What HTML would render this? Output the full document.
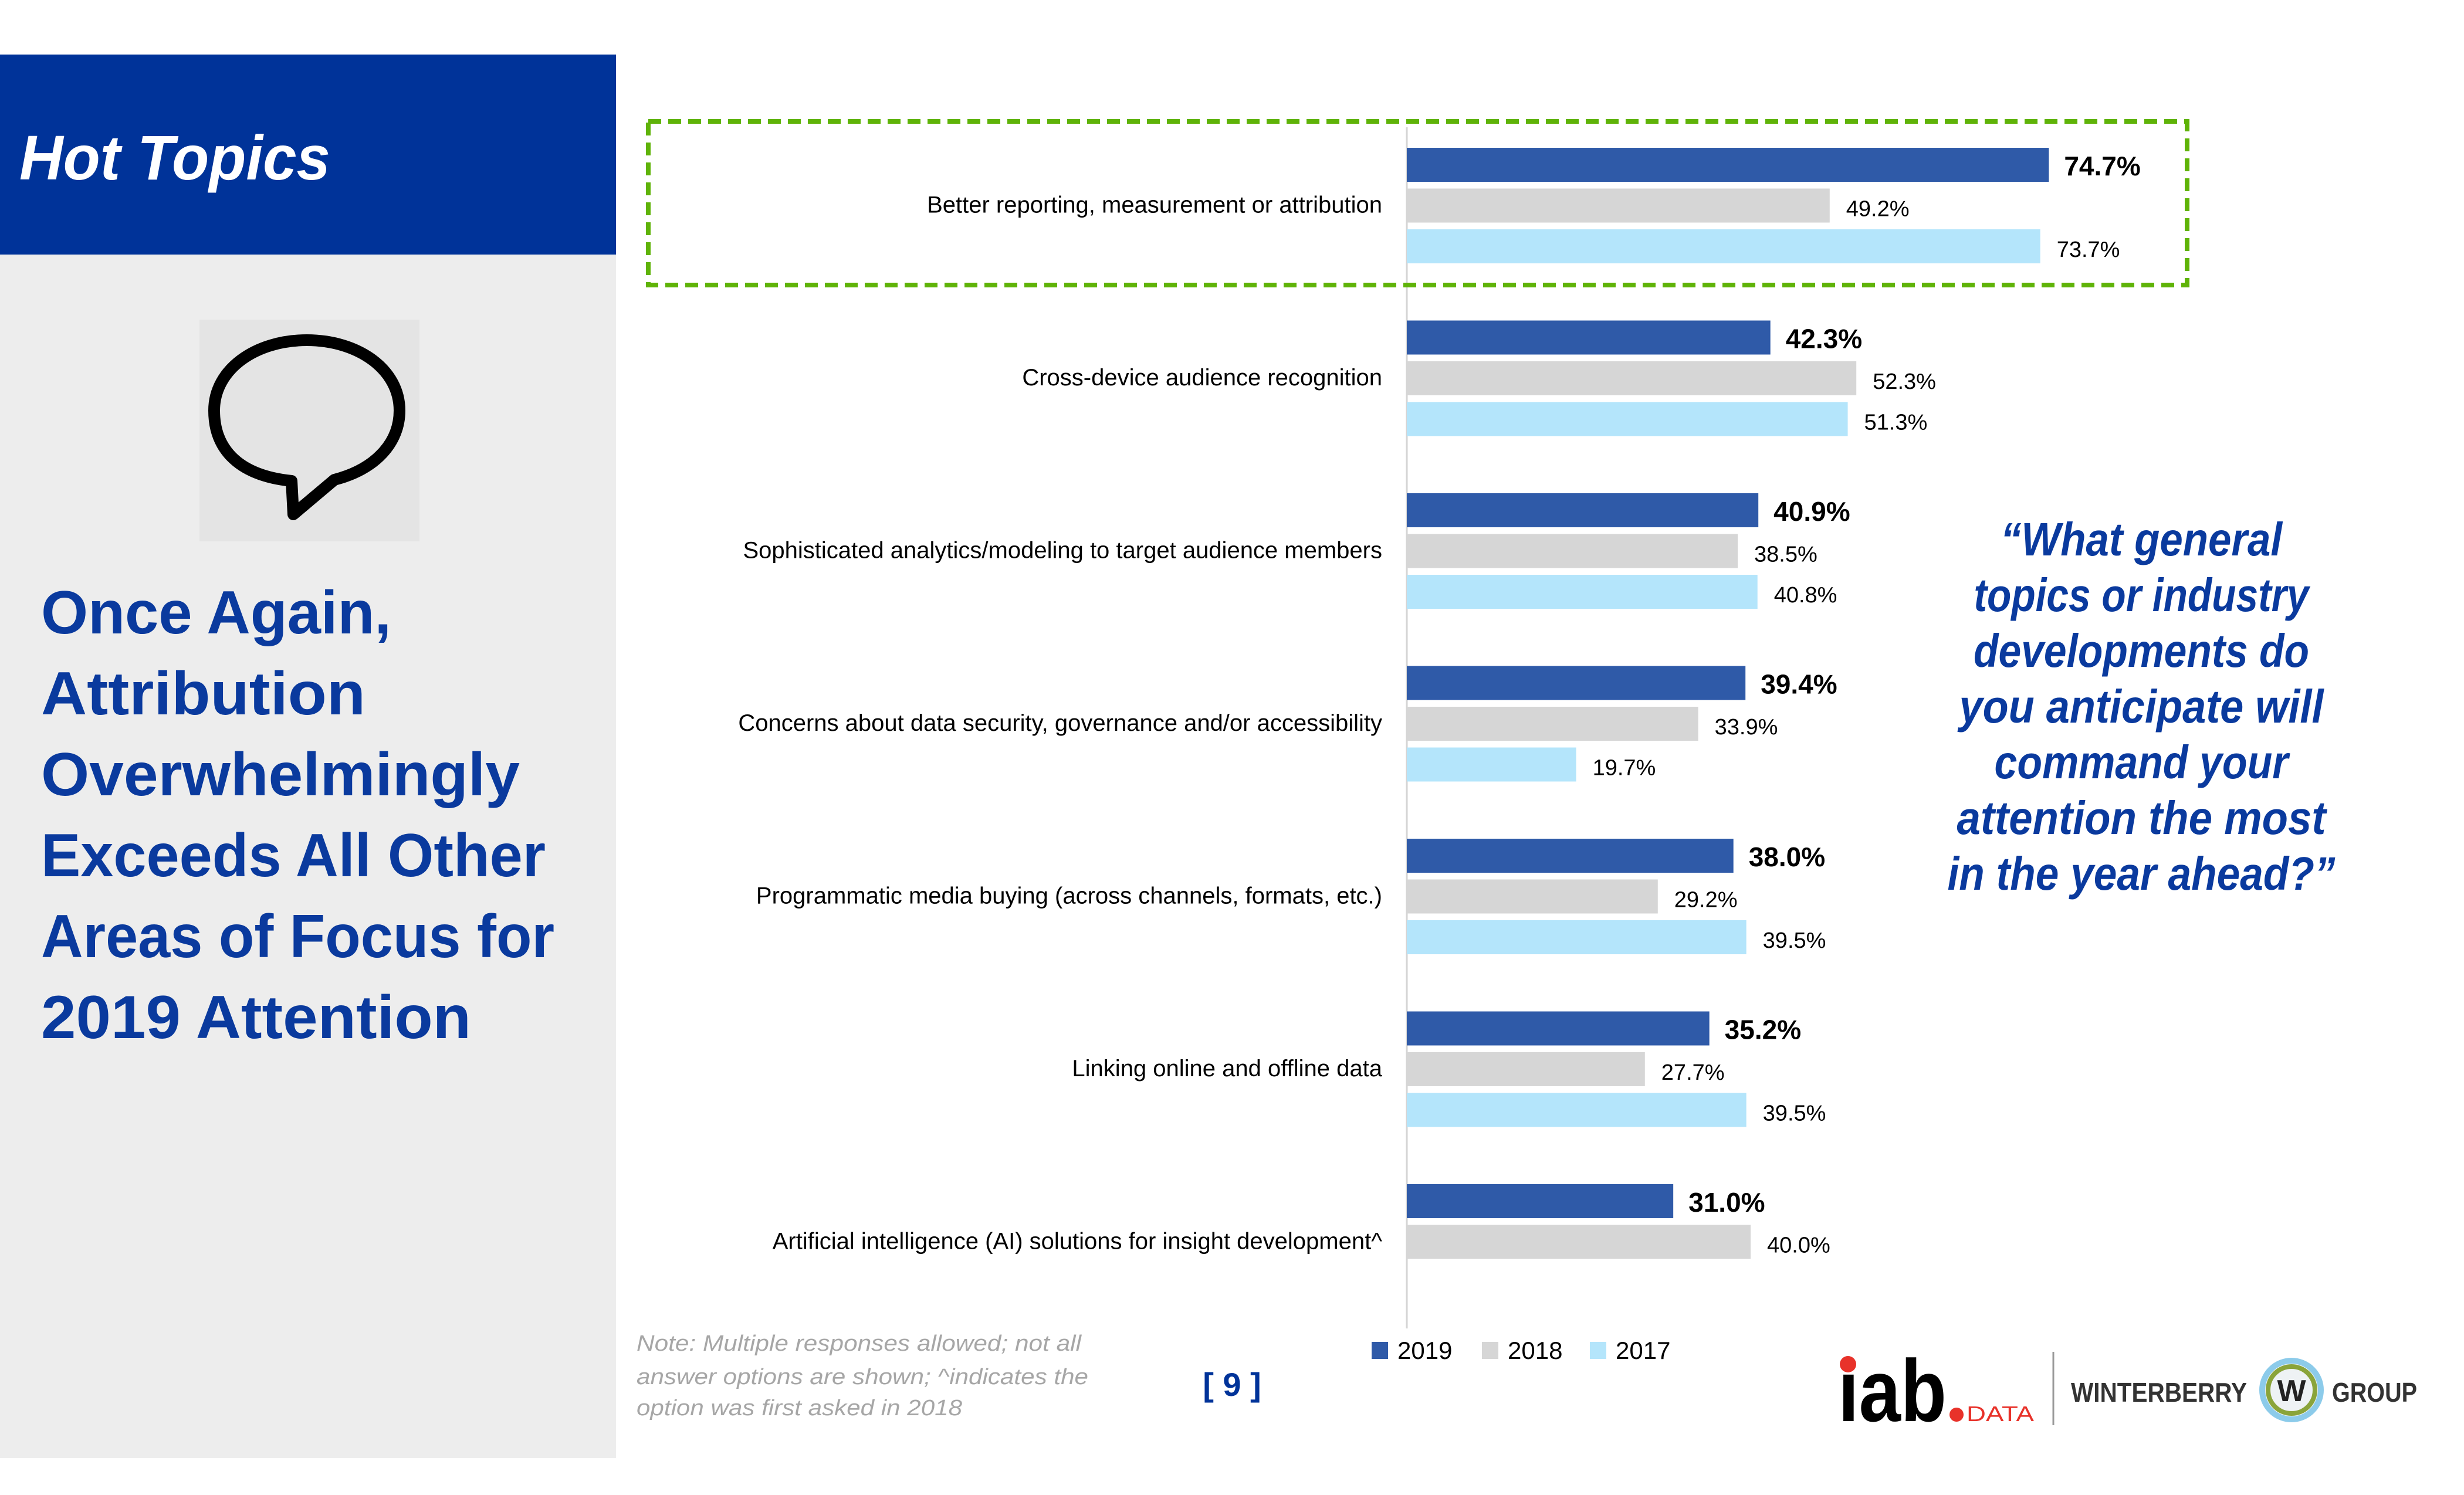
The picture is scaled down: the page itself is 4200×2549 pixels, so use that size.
<!DOCTYPE html>
<html><head><meta charset="utf-8">
<style>
html,body{margin:0;padding:0;background:#fff;}
svg{display:block;font-family:"Liberation Sans",sans-serif;}
</style></head>
<body>
<svg id="slide" width="4200" height="2549" viewBox="0 0 4200 2549" xmlns="http://www.w3.org/2000/svg">
  <rect x="0" y="93" width="1050" height="341" fill="#003399"/>
  <rect x="0" y="434" width="1050" height="2052" fill="#ededed"/>
  <text x="33" y="306" font-size="108" font-weight="bold" font-style="italic" fill="#fff" textLength="530" lengthAdjust="spacingAndGlyphs">Hot Topics</text>
  <g>
    <rect x="340" y="545" width="375" height="378" fill="#e4e4e4"/>
    <path d="M497,820 C400,810 365,760 365,700 C365,630 435,580 523,580 C611,580 681,630 681,700 C681,755 640,800 570,818 L500,877 L497,820 Z" fill="none" stroke="#000" stroke-width="20" stroke-linejoin="round"/>
  </g>
  <g fill="#0a3a9e" font-weight="bold" font-size="104">
    <text x="70" y="1080" textLength="597" lengthAdjust="spacingAndGlyphs">Once Again,</text>
    <text x="70" y="1218" textLength="553" lengthAdjust="spacingAndGlyphs">Attribution</text>
    <text x="70" y="1356" textLength="816" lengthAdjust="spacingAndGlyphs">Overwhelmingly</text>
    <text x="70" y="1494" textLength="860" lengthAdjust="spacingAndGlyphs">Exceeds All Other</text>
    <text x="70" y="1632" textLength="875" lengthAdjust="spacingAndGlyphs">Areas of Focus for</text>
    <text x="70" y="1770" textLength="733" lengthAdjust="spacingAndGlyphs">2019 Attention</text>
  </g>
  <g fill="#0a3a9e" font-weight="bold" font-style="italic" font-size="80" text-anchor="middle">
    <text x="3650" y="947" textLength="480" lengthAdjust="spacingAndGlyphs">“What general</text>
    <text x="3650" y="1042" textLength="571" lengthAdjust="spacingAndGlyphs">topics or industry</text>
    <text x="3650" y="1137" textLength="572" lengthAdjust="spacingAndGlyphs">developments do</text>
    <text x="3650" y="1232" textLength="621" lengthAdjust="spacingAndGlyphs">you anticipate will</text>
    <text x="3650" y="1327" textLength="501" lengthAdjust="spacingAndGlyphs">command your</text>
    <text x="3650" y="1422" textLength="629" lengthAdjust="spacingAndGlyphs">attention the most</text>
    <text x="3650" y="1517" textLength="661" lengthAdjust="spacingAndGlyphs">in the year ahead?”</text>
  </g>
  <g id="chart"></g>
  <rect x="1105" y="207" width="2623" height="279" fill="none" stroke="#5fb308" stroke-width="8" stroke-dasharray="22,12"/>
  <g fill="#a6a6a6" font-style="italic" font-size="38">
    <text x="1085" y="2303" textLength="758" lengthAdjust="spacingAndGlyphs">Note: Multiple responses allowed; not all</text>
    <text x="1085" y="2360" textLength="770" lengthAdjust="spacingAndGlyphs">answer options are shown; ^indicates the</text>
    <text x="1085" y="2413" textLength="555" lengthAdjust="spacingAndGlyphs">option was first asked in 2018</text>
  </g>
  <text x="2100" y="2380" font-size="56" font-weight="bold" fill="#003399" text-anchor="middle">[ 9 ]</text>
  <g id="legend"></g>
  <g>
    <text x="3133" y="2423" font-size="150" font-weight="bold" fill="#000" textLength="185" lengthAdjust="spacingAndGlyphs">ıab</text>
    <circle cx="3150" cy="2326" r="14" fill="#e8322a"/>
    <circle cx="3335" cy="2412" r="12" fill="#e8322a"/>
    <text x="3352" y="2423" font-size="36" fill="#e8322a" textLength="115" lengthAdjust="spacingAndGlyphs">DATA</text>
  </g>
  <line x1="3500" y1="2305" x2="3500" y2="2430" stroke="#999" stroke-width="3"/>
  <g>
    <text x="3530" y="2390" font-size="46" font-weight="bold" fill="#333" textLength="300" lengthAdjust="spacingAndGlyphs">WINTERBERRY</text>
    <circle cx="3906" cy="2370" r="50" fill="#eef2f4" stroke="#8ccbea" stroke-width="10"/>
    <circle cx="3906" cy="2370" r="40" fill="none" stroke="#8aa43a" stroke-width="8"/>
    <text x="3906" y="2389" font-size="52" font-weight="bold" fill="#222" text-anchor="middle">W</text>
    <text x="3975" y="2390" font-size="46" font-weight="bold" fill="#333" textLength="145" lengthAdjust="spacingAndGlyphs">GROUP</text>
  </g>
</svg>
<script>
const categories = [
  "Better reporting, measurement or attribution",
  "Cross-device audience recognition",
  "Sophisticated analytics/modeling to target audience members",
  "Concerns about data security, governance and/or accessibility",
  "Programmatic media buying (across channels, formats, etc.)",
  "Linking online and offline data",
  "Artificial intelligence (AI) solutions for insight development^"
];
const seriesNames = ["2019", "2018", "2017"];
const values2019 = [74.7, 42.3, 40.9, 39.4, 38.0, 35.2, 31.0];
const values2018 = [49.2, 52.3, 38.5, 33.9, 29.2, 27.7, 40.0];
const values2017 = [73.7, 51.3, 40.8, 19.7, 39.5, 39.5, null];

const NS = "http://www.w3.org/2000/svg";
const colors = ["#2f5aa8", "#d6d6d6", "#b4e5fb"];
const x0 = 2398, pxPer = 14.65;
const groupTop = 252, groupPitch = 294.5, barPitch = 69.5, barH = 58;
function xScale(v){ return x0 + v * pxPer; }
function yBar(g, s){ return groupTop + g * groupPitch + s * barPitch; }
function mk(tag, attrs, parent){
  const el = document.createElementNS(NS, tag);
  for (const k in attrs) el.setAttribute(k, attrs[k]);
  parent.appendChild(el);
  return el;
}
const chart = document.getElementById("chart");
const axis = mk("line", {x1:x0, y1:217, x2:x0, y2:2265, stroke:"#d4d4d4", "stroke-width":3}, chart);


const all = [values2019, values2018, values2017];
categories.forEach((c, g) => {
  const lbl = mk("text", {x:2356, y:yBar(g,1)+barH/2+12, "font-size":40, fill:"#000", "text-anchor":"end"}, chart);
  lbl.textContent = c;
  
  
  all.forEach((vals, s) => {
    const v = vals[g];
    if (v === null || v === undefined) return;
    const r = mk("rect", {x:x0, y:yBar(g,s), width:xScale(v)-x0, height:barH, fill:colors[s]}, chart);
    
    
    const t = mk("text", {x:xScale(v)+(s===0?26:28), y:yBar(g,s)+barH/2+18, "font-size":s===0?46:38, "font-weight":s===0?"bold":"normal", fill:"#000"}, chart);
    t.textContent = v.toFixed(1) + "%";
    
    
  });
});
const legend = document.getElementById("legend");
const legX = [2338, 2526, 2710];
seriesNames.forEach((n, i) => {
  const sw = mk("rect", {x:legX[i], y:2288, width:28, height:29, fill:colors[i]}, legend);
  
  
  const t = mk("text", {x:legX[i]+44, y:2317, "font-size":42, fill:"#000"}, legend);
  t.textContent = n;
  
  
});
</script>
</body></html>
